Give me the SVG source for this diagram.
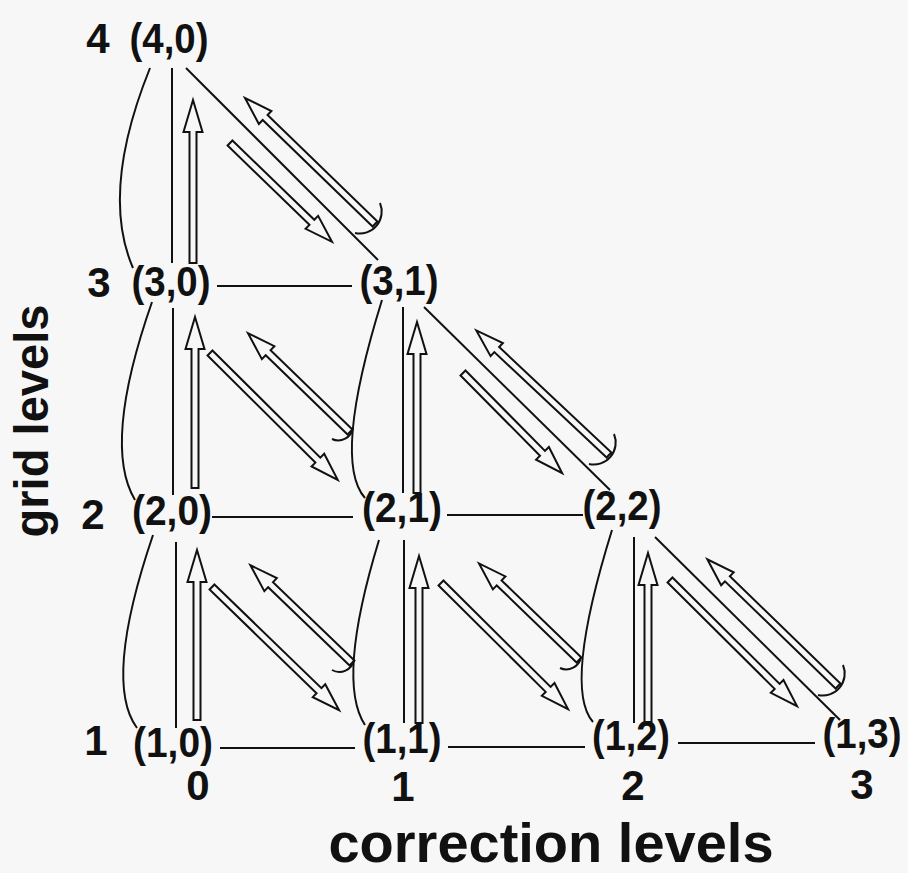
<svg xmlns="http://www.w3.org/2000/svg" width="908" height="873" viewBox="0 0 908 873">
<style>
.bg{fill:#f7f7f7}
.ln{fill:none;stroke:#111;stroke-width:2}
.ha{fill:#f7f7f7;stroke:#111;stroke-width:2;stroke-linejoin:miter}
.nd{font-family:"Liberation Sans",Arial,Helvetica,sans-serif;font-weight:bold;font-size:42px;fill:#111;text-anchor:middle}
.ax{font-family:"Liberation Sans",Arial,Helvetica,sans-serif;font-weight:bold;font-size:42px;fill:#111;text-anchor:middle}
.tt{font-family:"Liberation Sans",Arial,Helvetica,sans-serif;font-weight:bold;fill:#111;text-anchor:middle}
</style>
<rect class="bg" x="0" y="0" width="908" height="873"/>
<g id="connectors">
  <path class="ln" d="M150,68 Q100,192 133,268"/>
  <path class="ln" d="M152,302 Q102,445 135,500"/>
  <path class="ln" d="M153,535 Q103,682 137,728"/>
  <path class="ln" d="M382,300 Q332,461 365,498"/>
  <path class="ln" d="M379,540 Q336,681 365,725"/>
  <path class="ln" d="M612,530 Q563,688 593,722"/>
  <path class="ln" d="M172,68 V263"/>
  <path class="ln" d="M173,308 V495"/>
  <path class="ln" d="M176,542 V728"/>
  <path class="ln" d="M403,307 V493"/>
  <path class="ln" d="M404,540 V723"/>
  <path class="ln" d="M634,537 V723"/>
  <path class="ln" d="M217,286 H352"/>
  <path class="ln" d="M212,517 H353"/>
  <path class="ln" d="M447,515 H583"/>
  <path class="ln" d="M220,748 H355"/>
  <path class="ln" d="M448,747 H585"/>
  <path class="ln" d="M678,743 H815"/>
  <path class="ln" d="M186,68 L378,260"/>
  <path class="ln" d="M424,307 L610,490"/>
  <path class="ln" d="M655,537 L840,720"/>
  <polygon class="ha" points="189.5,263 189.5,132 183.5,132 193,100 202.5,132 196.5,132 196.5,263"/>
  <polygon class="ha" points="191.5,488 191.5,349 185.5,349 195,317 204.5,349 198.5,349 198.5,488"/>
  <polygon class="ha" points="193.5,720 193.5,582 187.5,582 197,550 206.5,582 200.5,582 200.5,720"/>
  <polygon class="ha" points="413.5,493 413.5,354 407.5,354 417,322 426.5,354 420.5,354 420.5,493"/>
  <polygon class="ha" points="415.5,723 415.5,588 409.5,588 419,556 428.5,588 422.5,588 422.5,723"/>
  <polygon class="ha" points="644.5,722 644.5,585 638.5,585 648,553 657.5,585 651.5,585 651.5,722"/>
  <polygon class="ha" transform="translate(230,143) rotate(44.1)" points="0,-3.5 114,-3.5 114,-9 142,0 114,9 114,3.5 0,3.5"/>
  <polygon class="ha" transform="translate(210,353) rotate(44.8)" points="0,-3.5 152,-3.5 152,-9 180,0 152,9 152,3.5 0,3.5"/>
  <polygon class="ha" transform="translate(212,587) rotate(44.1)" points="0,-3.5 149,-3.5 149,-9 177,0 149,9 149,3.5 0,3.5"/>
  <polygon class="ha" transform="translate(463,373) rotate(45.3)" points="0,-3.5 113,-3.5 113,-9 141,0 113,9 113,3.5 0,3.5"/>
  <polygon class="ha" transform="translate(441,583) rotate(44.8)" points="0,-3.5 151,-3.5 151,-9 179,0 151,9 151,3.5 0,3.5"/>
  <polygon class="ha" transform="translate(670,580) rotate(44.8)" points="0,-3.5 151,-3.5 151,-9 179,0 151,9 151,3.5 0,3.5"/>
  <polygon class="ha" transform="translate(375,224) rotate(224.1)" points="0,-3.5 153,-3.5 153,-9 181,0 153,9 153,3.5 0,3.5"/>
  <polygon class="ha" transform="translate(350,432) rotate(224.1)" points="0,-3.5 114,-3.5 114,-9 142,0 114,9 114,3.5 0,3.5"/>
  <polygon class="ha" transform="translate(352,663) rotate(223.9)" points="0,-3.5 113,-3.5 113,-9 141,0 113,9 113,3.5 0,3.5"/>
  <polygon class="ha" transform="translate(609,455) rotate(223.2)" points="0,-3.5 154,-3.5 154,-9 182,0 154,9 154,3.5 0,3.5"/>
  <polygon class="ha" transform="translate(579,660) rotate(224)" points="0,-3.5 111,-3.5 111,-9 139,0 111,9 111,3.5 0,3.5"/>
  <polygon class="ha" transform="translate(838,686) rotate(224.1)" points="0,-3.5 154,-3.5 154,-9 182,0 154,9 154,3.5 0,3.5"/>
  <path class="ln" d="M380,203 A22,22 0 0 1 355,233"/>
  <path class="ln" d="M614,434 A22,22 0 0 1 589,464"/>
  <path class="ln" d="M843,665 A22,22 0 0 1 818,695"/>
  <path class="ln" d="M353,428 A15,15 0 0 1 332,439"/>
  <path class="ln" d="M354,660 A15,15 0 0 1 332,670"/>
  <path class="ln" d="M581,657 A15,15 0 0 1 560,668"/>
</g>
<g id="n40"><text class="nd" x="169" y="53" textLength="79" lengthAdjust="spacingAndGlyphs">(4,0)</text></g>
<g id="n30"><text class="nd" x="171" y="296" textLength="79" lengthAdjust="spacingAndGlyphs">(3,0)</text></g>
<g id="n31"><text class="nd" x="399" y="295" textLength="79" lengthAdjust="spacingAndGlyphs">(3,1)</text></g>
<g id="n20"><text class="nd" x="172" y="525" textLength="80" lengthAdjust="spacingAndGlyphs">(2,0)</text></g>
<g id="n21"><text class="nd" x="402" y="522" textLength="80" lengthAdjust="spacingAndGlyphs">(2,1)</text></g>
<g id="n22"><text class="nd" x="622" y="520" textLength="79" lengthAdjust="spacingAndGlyphs">(2,2)</text></g>
<g id="n10"><text class="nd" x="173" y="757" textLength="80" lengthAdjust="spacingAndGlyphs">(1,0)</text></g>
<g id="n11"><text class="nd" x="402" y="753" textLength="79" lengthAdjust="spacingAndGlyphs">(1,1)</text></g>
<g id="n12"><text class="nd" x="631" y="750" textLength="78" lengthAdjust="spacingAndGlyphs">(1,2)</text></g>
<g id="n13"><text class="nd" x="862" y="748" textLength="79" lengthAdjust="spacingAndGlyphs">(1,3)</text></g>
<g id="axes">
  <text class="ax" x="98" y="53">4</text>
  <text class="ax" x="99" y="297">3</text>
  <text class="ax" x="93" y="529">2</text>
  <text class="ax" x="96" y="755">1</text>
  <text class="ax" x="198" y="800">0</text>
  <text class="ax" x="403" y="801">1</text>
  <text class="ax" x="633" y="800">2</text>
  <text class="ax" x="862" y="799">3</text>
  <text class="tt" x="551" y="862" font-size="56">correction levels</text>
  <text class="tt" font-size="48" transform="translate(48,421) rotate(-90)" textLength="233" lengthAdjust="spacingAndGlyphs">grid levels</text>
</g>
</svg>
